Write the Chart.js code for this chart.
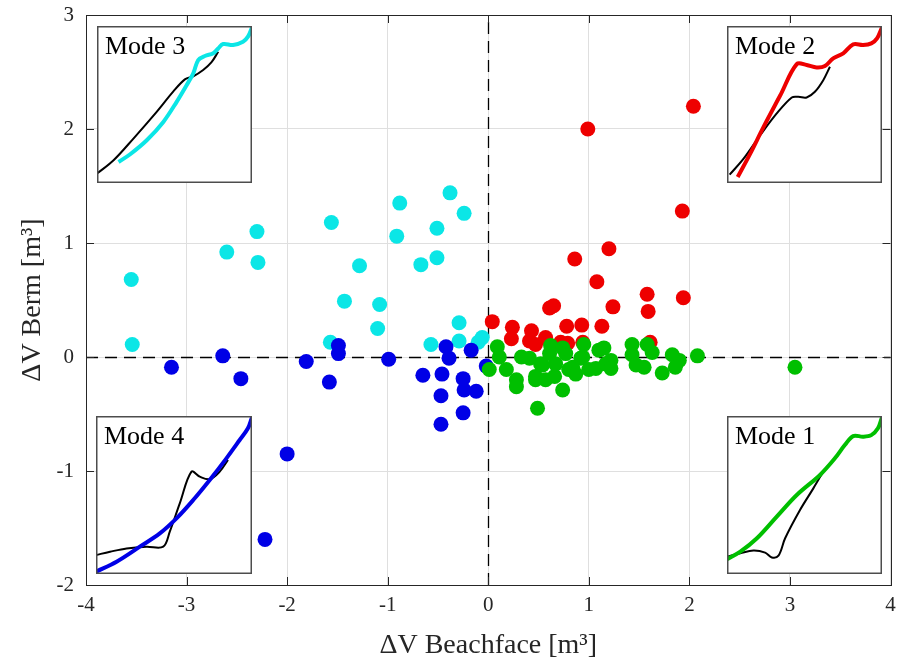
<!DOCTYPE html>
<html>
<head>
<meta charset="utf-8">
<script src="https://cdn.jsdelivr.net/npm/chart.js@4.4.1/dist/chart.umd.min.js"></script>
<style>
  body { margin: 0; background: #fff; }
  #wrap { position: relative; width: 898px; height: 666px; }
  #main { position: absolute; left: 0; top: 0; }
  .inset { position: absolute; }
</style>
</head>
<body>
<div id="wrap">
  <canvas id="main" width="898" height="666"></canvas>
  <canvas class="inset" id="inset3" width="155" height="157" style="left:97px;top:26px"></canvas>
  <canvas class="inset" id="inset2" width="155" height="157" style="left:727px;top:26px"></canvas>
  <canvas class="inset" id="inset4" width="156" height="158" style="left:96px;top:416px"></canvas>
  <canvas class="inset" id="inset1" width="155" height="158" style="left:727px;top:416px"></canvas>
</div>
<script>
// ---------------- data ----------------
const xTicks = [-4, -3, -2, -1, 0, 1, 2, 3, 4];
const yTicks = [-2, -1, 0, 1, 2, 3];

// Mode 3 (cyan)
const cyanX = [-3.55, -3.54, -2.60, -2.30, -2.29, -1.56, -1.28, -1.43, -1.08, -1.10, -1.57, -0.88, -0.91,
               -0.38, -0.24, -0.51, -0.51, -0.67, -0.29, -0.29, -0.57, -0.06, -0.10];
const cyanY = [0.68, 0.11, 0.92, 1.10, 0.83, 1.18, 0.80, 0.49, 0.46, 0.25, 0.13, 1.35, 1.06,
               1.44, 1.26, 1.13, 0.87, 0.81, 0.30, 0.14, 0.11, 0.17, 0.13];

// Mode 2 (red)
const redX = [2.04, 0.99, 1.93, 1.20, 0.86, 1.08, 1.58, 1.94, 1.59, 1.24, 0.61, 0.65, 0.04, 0.24, 0.23,
              0.43, 0.41, 0.47, 0.57, 0.78, 0.93, 1.13, 0.72, 0.79, 0.94, 1.61];
const redY = [2.20, 2.00, 1.28, 0.95, 0.86, 0.66, 0.55, 0.52, 0.40, 0.44, 0.43, 0.45, 0.31, 0.26, 0.16,
              0.23, 0.14, 0.11, 0.17, 0.27, 0.28, 0.27, 0.13, 0.12, 0.13, 0.13];

// Mode 4 (blue)
const blueX = [-3.15, -2.64, -2.46, -1.81, -1.58, -1.49, -1.49, -0.99, -0.65, -0.46, -0.42, -0.39, -0.17,
               -0.02, -0.25, -0.24, -0.12, -0.47, -0.25, -0.47, -2.00, -2.22];
const blueY = [-0.09, 0.01, -0.19, -0.04, -0.22, 0.10, 0.03, -0.02, -0.16, -0.15, 0.09, -0.01, 0.06,
               -0.08, -0.19, -0.29, -0.30, -0.34, -0.49, -0.59, -0.85, -1.60];

// Mode 1 (green)
const greenX = [0.09, 0.11, 0.01, 0.18, 0.28, 0.28, 0.33, 0.41, 0.47, 0.47, 0.57, 0.49, 0.52, 0.62, 0.61,
                0.54, 0.67, 0.74, 0.77, 0.80, 0.84, 0.87, 0.92, 0.95, 0.94, 1.00, 1.07, 1.10, 1.15, 1.17,
                1.22, 1.22, 1.43, 1.43, 1.47, 1.55, 1.58, 1.63, 1.73, 1.83, 1.90, 1.86, 2.08, 3.05, 0.74, 0.66];
const greenY = [0.09, 0.00, -0.11, -0.11, -0.20, -0.26, 0.00, -0.01, -0.17, -0.20, -0.20, -0.45, -0.06, 0.10, 0.03,
                -0.07, -0.06, -0.29, 0.03, -0.11, -0.09, -0.15, -0.01, 0.11, 0.00, -0.11, -0.10, 0.06, 0.08, -0.06,
                -0.03, -0.10, 0.11, 0.02, -0.07, -0.09, 0.11, 0.04, -0.14, 0.02, -0.03, -0.09, 0.01, -0.09, 0.08, -0.17];

// inset profiles, normalised 0..1 inside each inset box
const mode3Black = [[0, 0.06], [0.107, 0.145], [0.235, 0.283], [0.385, 0.453], [0.49, 0.58], [0.567, 0.66],
                    [0.621, 0.68], [0.685, 0.72], [0.739, 0.77], [0.782, 0.836]];
const mode3Cyan  = [[0.139, 0.134], [0.214, 0.183], [0.321, 0.272], [0.428, 0.389], [0.514, 0.517], [0.578, 0.623],
                    [0.621, 0.698], [0.653, 0.783], [0.696, 0.809], [0.75, 0.826], [0.782, 0.857], [0.814, 0.885],
                    [0.878, 0.879], [0.942, 0.9], [0.974, 0.932], [1.0, 0.991]];
const mode2Black = [[0.017, 0.053], [0.107, 0.155], [0.214, 0.304], [0.321, 0.443], [0.418, 0.545], [0.46, 0.549],
                    [0.514, 0.545], [0.567, 0.581], [0.621, 0.655], [0.664, 0.74]];
const mode2Red   = [[0.069, 0.038], [0.15, 0.187], [0.236, 0.357], [0.343, 0.557], [0.45, 0.757], [0.514, 0.751],
                    [0.578, 0.736], [0.632, 0.745], [0.685, 0.794], [0.75, 0.826], [0.814, 0.883], [0.878, 0.879],
                    [0.931, 0.889], [0.968, 0.921], [1.0, 0.991]];
const mode4Black = [[0, 0.12], [0.09, 0.141], [0.196, 0.162], [0.324, 0.173], [0.431, 0.173], [0.473, 0.268],
                    [0.537, 0.447], [0.612, 0.648], [0.665, 0.616], [0.729, 0.6], [0.793, 0.648], [0.846, 0.722]];
const mode4Blue  = [[0, 0.015], [0.132, 0.078], [0.281, 0.173], [0.409, 0.257], [0.516, 0.352], [0.623, 0.468],
                    [0.729, 0.595], [0.836, 0.732], [0.921, 0.848], [0.974, 0.922], [1.0, 0.992]];
const mode1Black = [[0, 0.11], [0.086, 0.131], [0.171, 0.148], [0.246, 0.135], [0.289, 0.105], [0.332, 0.116],
                    [0.375, 0.226], [0.471, 0.405], [0.557, 0.542], [0.621, 0.648]];
const mode1Green = [[0, 0.093], [0.086, 0.141], [0.193, 0.226], [0.321, 0.363], [0.45, 0.5], [0.6, 0.627],
                    [0.696, 0.732], [0.76, 0.816], [0.814, 0.873], [0.878, 0.869], [0.931, 0.879], [0.974, 0.922],
                    [1.0, 0.992]];

// ---------------- style ----------------
const AX = '#262626';
const FONT = "'Liberation Serif', 'DejaVu Serif', serif";
const COL = { cyan: '#0be6e6', red: '#ee0000', blue: '#0000e6', green: '#00bf00' };

function pts(xs, ys) { return xs.map((x, i) => ({ x, y: ys[i] })); }
function pairs(arr) { return arr.map(p => ({ x: p[0], y: p[1] })); }

// zero lines under the markers, frame + inward ticks on top
const framePlugin = {
  id: 'frame',
  beforeDatasetsDraw(chart) {
    const { ctx, chartArea: a, scales: { x, y } } = chart;
    ctx.save();
    ctx.strokeStyle = '#000';
    ctx.lineWidth = 1.3;
    ctx.setLineDash([12, 7]);
    const x0 = Math.round(x.getPixelForValue(0)) + 0.5;
    const y0 = Math.round(y.getPixelForValue(0)) + 0.5;
    ctx.beginPath();
    ctx.moveTo(a.left, y0); ctx.lineTo(a.right, y0);
    ctx.moveTo(x0, a.bottom); ctx.lineTo(x0, a.top);
    ctx.stroke();
    ctx.restore();
  },
  afterDraw(chart) {
    const { ctx, chartArea: a, scales: { x, y } } = chart;
    ctx.save();
    ctx.strokeStyle = AX;
    ctx.lineWidth = 1;
    ctx.beginPath();
    xTicks.forEach(v => {
      const px = Math.round(x.getPixelForValue(v)) + 0.5;
      ctx.moveTo(px, a.bottom); ctx.lineTo(px, a.bottom - 8);
      ctx.moveTo(px, a.top); ctx.lineTo(px, a.top + 8);
    });
    yTicks.forEach(v => {
      const py = Math.round(y.getPixelForValue(v)) + 0.5;
      ctx.moveTo(a.left, py); ctx.lineTo(a.left + 8, py);
      ctx.moveTo(a.right, py); ctx.lineTo(a.right - 8, py);
    });
    ctx.stroke();
    ctx.strokeRect(Math.round(a.left) + 0.5, Math.round(a.top) + 0.5,
                   Math.round(a.right - a.left), Math.round(a.bottom - a.top));
    ctx.restore();
  }
};

function scatterSet(label, xs, ys, color, order) {
  return {
    label, data: pts(xs, ys), order,
    backgroundColor: color, borderColor: color,
    pointRadius: 7.5, pointHoverRadius: 7.5, borderWidth: 0, showLine: false
  };
}

new Chart(document.getElementById('main'), {
  type: 'scatter',
  data: {
    datasets: [
      scatterSet('Mode 3', cyanX, cyanY, COL.cyan, 4),
      scatterSet('Mode 2', redX, redY, COL.red, 3),
      scatterSet('Mode 4', blueX, blueY, COL.blue, 2),
      scatterSet('Mode 1', greenX, greenY, COL.green, 1)
    ]
  },
  options: {
    responsive: false,
    animation: false,
    layout: { padding: { top: 15, right: 6, left: 0, bottom: 0 } },
    plugins: { legend: { display: false }, tooltip: { enabled: false } },
    scales: {
      x: {
        type: 'linear', min: -4, max: 4,
        afterFit: s => { s.height = 81; s.paddingLeft = 0; s.paddingRight = 0; },
        afterBuildTicks: s => { s.ticks = xTicks.map(v => ({ value: v })); },
        ticks: { color: AX, font: { family: FONT, size: 21 }, padding: 8 },
        grid: { color: '#dfdfdf', lineWidth: 1, drawTicks: false },
        border: { display: false },
        title: {
          display: true, text: 'ΔV Beachface [m³]', color: AX,
          font: { family: FONT, size: 28 }, padding: { top: 0, bottom: 4 }
        }
      },
      y: {
        type: 'linear', min: -2, max: 3,
        afterFit: s => { s.width = 86; s.paddingTop = 0; s.paddingBottom = 0; },
        afterBuildTicks: s => { s.ticks = yTicks.map(v => ({ value: v })); },
        ticks: { color: AX, font: { family: FONT, size: 21 }, padding: 12 },
        grid: { color: '#dfdfdf', lineWidth: 1, drawTicks: false },
        border: { display: false },
        title: {
          display: true, text: 'ΔV Berm [m³]', color: AX,
          font: { family: FONT, size: 28 }, padding: { top: 16, bottom: 0 }
        }
      }
    }
  },
  plugins: [framePlugin]
});

// ---------------- insets ----------------
function insetPlugin(title) {
  return {
    id: 'insetFrame',
    beforeDraw(chart) {
      const { ctx, width, height } = chart;
      ctx.save();
      ctx.fillStyle = '#fff';
      ctx.fillRect(0, 0, width, height);
      ctx.restore();
    },
    afterDraw(chart) {
      const { ctx, width, height } = chart;
      ctx.save();
      ctx.strokeStyle = '#4d4d4d';
      ctx.lineWidth = 1.5;
      ctx.strokeRect(0.75, 0.75, width - 1.5, height - 1.5);
      ctx.fillStyle = '#000';
      ctx.font = "26px " + FONT;
      ctx.textBaseline = 'alphabetic';
      ctx.fillText(title, 8, 28);
      ctx.restore();
    }
  };
}

function renderInset(id, title, black, colored, color) {
  new Chart(document.getElementById(id), {
    type: 'line',
    data: {
      datasets: [
        { data: pairs(colored), borderColor: color, borderWidth: 4, tension: 0.35, pointRadius: 0, order: 1 },
        { data: pairs(black), borderColor: '#000', borderWidth: 2, tension: 0.35, pointRadius: 0, order: 2 }
      ]
    },
    options: {
      responsive: false,
      animation: false,
      layout: { padding: 0 },
      plugins: { legend: { display: false }, tooltip: { enabled: false } },
      scales: {
        x: { type: 'linear', min: 0, max: 1, display: false },
        y: { type: 'linear', min: 0, max: 1, display: false }
      }
    },
    plugins: [insetPlugin(title)]
  });
}

renderInset('inset3', 'Mode 3', mode3Black, mode3Cyan, COL.cyan);
renderInset('inset2', 'Mode 2', mode2Black, mode2Red, COL.red);
renderInset('inset4', 'Mode 4', mode4Black, mode4Blue, COL.blue);
renderInset('inset1', 'Mode 1', mode1Black, mode1Green, COL.green);
</script>
</body>
</html>
